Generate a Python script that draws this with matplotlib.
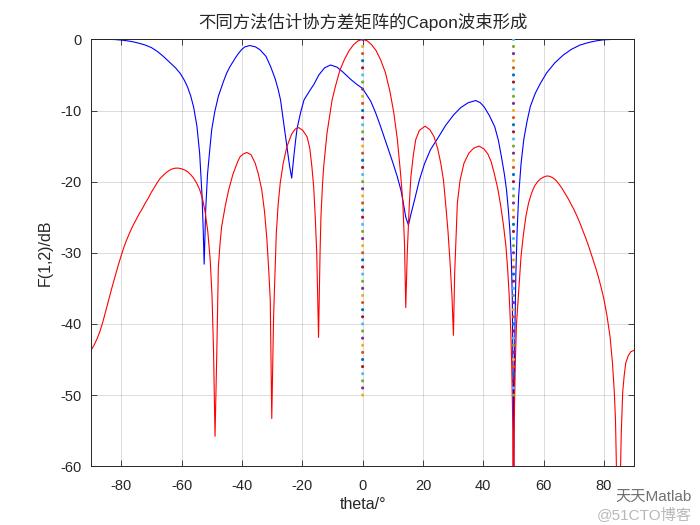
import matplotlib
matplotlib.use("Agg")
import matplotlib.pyplot as plt

# red curve (theta in degrees, response in dB)
theta_red = [-90, -89, -88, -87, -86, -85, -84, -83, -82, -81, -80, -79, -78, -77, -76, -75, -74,
             -73, -72, -71, -70, -69, -68, -67, -66, -65, -64, -63, -62, -61, -60, -59, -58, -57,
             -56, -55, -54, -53, -52.2, -51.3, -50.5, -49.9, -49.4, -48.9, -48.3, -47.8, -47.2,
             -46.7, -45.5, -44.4, -43, -41.4, -40.6, -39.5, -38.4, -37, -35.6, -34.5, -33.4,
             -32.5, -31.7, -31.1, -30.6, -30.1, -29.5, -29.0, -28.6, -28.0, -27.3, -26.3, -25.1,
             -23.5, -22.3, -21.2, -19.8, -18.4, -17.5, -16.8, -16.2, -15.7, -15.2, -14.6, -14.1,
             -13.8, -13.3, -12.9, -11.8, -10.1, -9, -7.5, -6, -4.5, -3, -1.5, 0, 1.5, 3, 4.5, 6,
             7.5, 9, 10.3, 11.5, 12.5, 13.3, 13.9, 14.3, 14.8, 15.5, 16.0, 16.8, 17.6, 18.8, 20.7,
             22.3, 23.7, 24.9, 25.9, 26.8, 27.5, 28.3, 29.0, 29.6, 30.1, 30.5, 30.8, 31.4, 32.3,
             33.6, 35.2, 36.8, 38.6, 40.2, 41.5, 42.6, 43.6, 44.8, 45.8, 46.7, 47.5, 48.1, 48.6,
             49.1, 49.4, 49.8, 50.0, 50.2, 50.6, 51.0, 51.6, 52.5, 53.3, 54.1, 55, 56, 57, 58, 59,
             60, 61, 62, 63, 64, 65, 66, 67, 68, 69, 70, 71, 72, 73, 74, 75, 76, 77, 78, 79, 80,
             81, 82, 82.8, 83.4, 83.8, 84.1, 84.8, 85.5, 85.7, 86.2, 86.7, 87.2, 88, 88.9, 90]
db_red = [-43.7, -43.0, -42.1, -41.0, -39.6, -38.0, -36.4, -34.8, -33.3, -31.8, -30.4, -29.1,
          -28.0, -27.0, -26.1, -25.3, -24.5, -23.8, -23.0, -22.3, -21.5, -20.8, -20.1, -19.5,
          -19.1, -18.7, -18.4, -18.2, -18.1, -18.1, -18.2, -18.35, -18.6, -19.0, -19.5, -20.2,
          -21.1, -22.5, -24.2, -27, -31.0, -36, -43.7, -55.8, -43.7, -32.0, -28.5, -26.3, -23.4,
          -21.2, -19.0, -17.2, -16.5, -16.1, -15.9, -16.2, -17.4, -19.0, -21.2, -24.2, -28.2,
          -32.5, -36.6, -53.3, -39.0, -32.5, -27.3, -23.3, -20.2, -17.4, -15.1, -13.3, -12.6,
          -12.4, -12.8, -13.7, -15.3, -17.9, -20.8, -24.9, -30, -41.9, -30, -24.9, -20.5, -17.9,
          -13.2, -8.5, -6.6, -4.3, -2.8, -1.6, -0.75, -0.2, 0, -0.2, -0.75, -1.6, -2.9, -4.6,
          -7.2, -10.2, -14, -18.5, -22.6, -29, -37.7, -30, -23, -19.3, -16.3, -14.1, -12.8,
          -12.2, -12.7, -13.7, -15.4, -17.4, -19.8, -23, -27, -31.5, -36, -41.6, -33, -29.6,
          -23.0, -19.8, -17.4, -16.0, -15.3, -15.0, -15.4, -16.1, -17.2, -18.8, -21.0, -23.5,
          -26.2, -29.1, -32.5, -36.2, -41, -45.5, -55, -80, -55, -45.5, -40, -36.2, -30.5,
          -27.4, -24.9, -23.0, -21.6, -20.6, -20.0, -19.6, -19.35, -19.2, -19.25, -19.45, -19.8,
          -20.3, -20.9, -21.6, -22.3, -23.1, -23.9, -24.8, -25.8, -26.9, -28.0, -29.2, -30.5,
          -31.8, -33.2, -34.8, -36.6, -38.9, -41.8, -45.5, -49.5, -53.5, -60, -75, -60, -55.5,
          -49.5, -47.2, -45.5, -44.5, -43.9, -43.7]

# blue curve
theta_blue = [-90, -84, -82, -80, -78, -76, -74, -72, -70, -68, -66, -64, -62, -60.4, -59, -58,
              -57, -56, -54.9, -54.0, -53.2, -52.8, -52.5, -52.0, -51.4, -50.6, -50.0, -49,
              -47.8, -46, -45, -43.9, -42, -41, -40, -39, -37.4, -35.5, -33.9, -32, -30.5, -29,
              -28, -27.2, -26.2, -25.1, -24.2, -23.5, -22.8, -22.2, -21.7, -20.5, -19.4, -17.5,
              -16.1, -14.5, -12.6, -10.6, -8.5, -6.5, -4, -2, 0, 1.5, 2.7, 4.3, 6.0, 8, 10, 11.5,
              12.7, 13.5, 14.3, 15.2, 16.0, 17.2, 18.8, 20.5, 22.5, 24.9, 27.5, 30.2, 32.5, 35,
              37.5, 39, 40.3, 42, 43.8, 45, 46, 47, 47.7, 48.3, 48.8, 49.3, 49.6, 49.9, 50.0,
              50.2, 50.5, 50.8, 51.2, 51.7, 52.5, 53.4, 54.5, 55.6, 57.2, 58.9, 61, 63.7, 66.5,
              69.2, 72, 74.8, 77.5, 80, 83, 90]
db_blue = [0, 0, -0.03, -0.1, -0.2, -0.35, -0.55, -0.8, -1.15, -1.7, -2.4, -3.2, -4.0, -4.8,
           -5.8, -6.7, -7.9, -9.5, -12.2, -16, -22, -27, -31.6, -24, -19, -15.3, -12.7, -10.2,
           -8.0, -5.8, -4.7, -3.8, -2.5, -1.9, -1.4, -1.05, -0.87, -1.05, -1.5, -2.4, -3.8, -5.5,
           -7.0, -8.5, -11.6, -15.0, -17.8, -19.5, -16.5, -14.2, -12.5, -10.2, -8.5, -7.2, -6.3,
           -5.0, -4.0, -3.6, -3.9, -4.6, -5.6, -6.3, -6.9, -7.9, -8.7, -10.3, -12.3, -14.8,
           -17.3, -19.3, -21.2, -23, -25, -26.1, -24.6, -22.6, -19.8, -17.5, -15.5, -13.9, -12.1,
           -10.6, -9.6, -8.9, -8.6, -8.9, -9.5, -10.7, -12.3, -14.2, -16.5, -19, -21.2, -24,
           -26.8, -31, -36.2, -50, -80, -50, -40, -32.7, -27, -22.1, -17.5, -14.1, -11.5, -9.4,
           -7.6, -6.2, -4.7, -3.3, -2.2, -1.4, -0.8, -0.45, -0.2, -0.06, 0, 0]

# dotted marker columns (directions 0 and 50 deg, levels -50..0 dB)
dot_angles = [0, 50]
dot_levels = [-50, -49, -48, -47, -46, -45, -44, -43, -42, -41, -40, -39, -38, -37, -36, -35, -34,
              -33, -32, -31, -30, -29, -28, -27, -26, -25, -24, -23, -22, -21, -20, -19, -18, -17,
              -16, -15, -14, -13, -12, -11, -10, -9, -8, -7, -6, -5, -4, -3, -2, -1, 0]

x_ticks = [-80, -60, -40, -20, 0, 20, 40, 60, 80]
y_ticks = [-60, -50, -40, -30, -20, -10, 0]

matlab_colors = [(0, 0.447, 0.741), (0.85, 0.325, 0.098), (0.929, 0.694, 0.125),
                 (0.494, 0.184, 0.556), (0.466, 0.674, 0.188), (0.301, 0.745, 0.933),
                 (0.635, 0.078, 0.184)]

plt.rcParams['font.family'] = ['Liberation Sans', 'Noto Sans CJK SC', 'DejaVu Sans']
plt.rcParams['axes.unicode_minus'] = False
dark = (0.15, 0.15, 0.15)

fig = plt.figure(figsize=(7, 5.25), dpi=100)
ax = fig.add_axes([0.13, 0.112, 0.776, 0.813])

ax.plot(theta_blue, db_blue, color='b', lw=0.8)
ax.plot(theta_red, db_red, color='r', lw=0.8)

# one dot per level, colour order continues from one column to the next
xs, ys, cs = [], [], []
k = 2
for a in dot_angles:
    for lv in dot_levels:
        xs.append(a)
        ys.append(lv)
        cs.append(matlab_colors[k % 7])
        k += 1
ax.scatter(xs, ys, s=5, c=cs, linewidths=0, zorder=3)

ax.set_xlim(-90, 90)
ax.set_ylim(-60, 0)
ax.set_xticks(x_ticks)
ax.set_yticks(y_ticks)
ax.tick_params(direction='in', top=True, right=True, length=4.5, width=0.6,
               colors=dark, labelsize=10.5, labelcolor=dark)
ax.tick_params(axis='x', pad=9)
ax.tick_params(axis='y', pad=7)
for s in ax.spines.values():
    s.set_linewidth(0.7)
    s.set_color(dark)
ax.grid(True, color=dark, alpha=0.18, lw=0.6)

ax.set_title('不同方法估计协方差矩阵的Capon波束形成', fontsize=12.5, color=dark, pad=8)
ax.set_xlabel('theta/°', fontsize=11.5, color=dark, labelpad=3)
ax.set_ylabel('F(1,2)/dB', fontsize=11.5, color=dark, labelpad=5)

# watermark, kept just clear of the "80" tick label
fig.text(0.879, 0.046, '天天Matlab', fontsize=11, color=(0.3, 0.3, 0.3), alpha=0.8)
fig.text(0.853, 0.012, '@51CTO博客', fontsize=11, color=(0.72, 0.72, 0.72))

fig.savefig('out.png', dpi=100)
